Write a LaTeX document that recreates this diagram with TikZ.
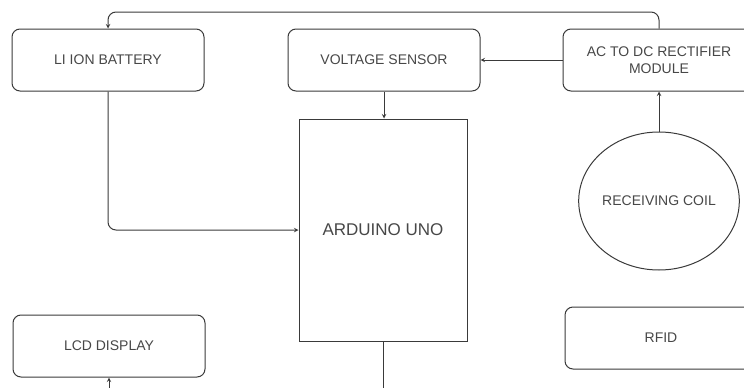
\documentclass[tikz,border=0pt]{standalone}
\usepackage{fontspec}
\setmainfont{Liberation Sans}
\usetikzlibrary{positioning, shapes.geometric}

\definecolor{linegray}{HTML}{3A3A3A}
\definecolor{textgray}{HTML}{474747}

\tikzset{
  block/.style={draw=linegray, line width=1pt, rounded corners=8pt, align=center,
    minimum width=192pt, minimum height=62pt, inner sep=2pt, text=textgray,
    font=\fontsize{14}{17}\selectfont},
  wire/.style={draw=linegray, line width=1pt, ->, rounded corners=8pt}
}

\begin{document}
\begin{tikzpicture}[x=1pt, y=-1pt, >=stealth]
\useasboundingbox (0,0) rectangle (744,388);
\node[block] (batt) at (108,60) {LI ION BATTERY};
\node[block, right=83pt of batt] (volt) {VOLTAGE SENSOR};
\node[block, right=82pt of volt] (rect) {AC TO DC RECTIFIER\\MODULE};
\node[draw=linegray, line width=1pt, minimum width=168pt, minimum height=222pt, text=textgray,
  font=\fontsize{17}{20}\selectfont, below=27pt of volt, xshift=-1pt] (ard) {ARDUINO UNO};
\node[draw=linegray, line width=1pt, ellipse, minimum width=155pt, minimum height=138pt, inner sep=0pt,
  text=textgray, font=\fontsize{14}{17}\selectfont, below=40pt of rect] (coil) {RECEIVING COIL};
\node[block, below=223pt of batt, xshift=1pt] (lcd) {LCD DISPLAY};
\node[block, below=36pt of coil, xshift=2pt] (rfid) {RFID};

\draw[wire] (rect.north) |- (batt.north |- 0,12) -- (batt.north);
\draw[wire] (rect.west) -- (volt.east);
\draw[wire] (volt.south) -- (volt.south |- ard.north);
\draw[wire] (batt.south) |- (ard.west);
\draw[wire] (coil.north) -- (rect.south);
\draw[wire, sharp corners] (ard.south) |- (lcd.south |- 0,388.5) -- (lcd.south);
\end{tikzpicture}
\end{document}
